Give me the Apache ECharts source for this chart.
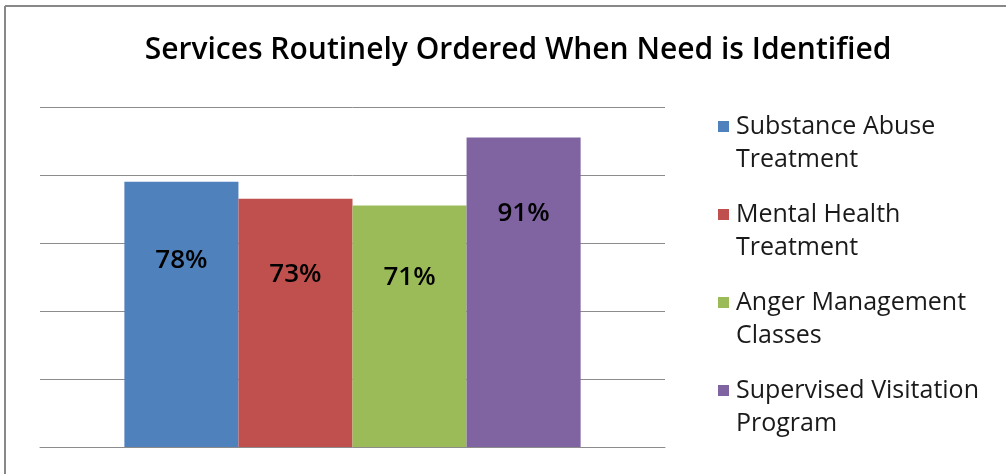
<!DOCTYPE html>
<html><head><meta charset="utf-8">
<script src="https://cdn.jsdelivr.net/npm/echarts@6/dist/echarts.min.js"></script>
<style>html,body{margin:0;padding:0;background:#fff}#c{width:1006px;height:474px}</style>
</head><body><div id="c"></div>
<script>
var titleText = 'Services Routinely Ordered When Need is Identified';
var categories = [''];
var seriesNames = ['Substance Abuse Treatment','Mental Health Treatment','Anger Management Classes','Supervised Visitation Program'];
var seriesValues = [78, 73, 71, 91];
var colors = ['#4f81bd','#c0504d','#9bbb59','#8064a2'];
var labelDistances = [66, 63, 59, 63];
var yTicks = [0, 20, 40, 60, 80, 100];

var chart = echarts.init(document.getElementById('c'), null, {renderer:'canvas'});
var series = seriesNames.map(function(n,i){
  return {
    name: n, type: 'bar', data: [seriesValues[i]],
    barGap: '0%', barCategoryGap: '27%',
    itemStyle: {color: colors[i]},
    label: {show: true, position: 'insideTop', distance: labelDistances[i],
      formatter: '{c}%', color: '#000', fontFamily: 'Open Sans', fontWeight: 600, fontSize: 26}
  };
});
chart.setOption({
  animation: false,
  color: colors,
  title: {text: titleText, left: 513, textAlign: 'center', top: 30,
    textStyle: {fontFamily: 'Open Sans', fontWeight: 600, fontSize: 30, color: '#000'}},
  grid: {left: 40, right: 341, top: 107, bottom: 27},
  legend: {orient: 'vertical', left: 713, top: 105, itemWidth: 11, itemHeight: 44, itemGap: 22,
    icon: 'path://M0,0L1,0L1,1L0,1Z M0,4L1,4',
    formatter: function(name){ var k = name.lastIndexOf(' '); return name.slice(0,k) + '\n' + name.slice(k+1); },
    textStyle: {fontFamily: 'Open Sans', fontSize: 25, lineHeight: 33, color: '#1a1a1a', padding: [0,0,0,2]}},
  xAxis: {type: 'category', data: categories, axisTick: {show: false}, axisLabel: {show: false},
    axisLine: {lineStyle: {color: '#8c8c8c', width: 1}}},
  yAxis: {type: 'value', min: yTicks[0], max: yTicks[yTicks.length-1], interval: yTicks[1]-yTicks[0],
    axisLabel: {show: false}, axisLine: {show: false}, axisTick: {show: false},
    splitLine: {lineStyle: {color: '#8c8c8c', width: 1}}},
  graphic: [
    {type: 'line', shape: {x1: 5, y1: 6, x2: 1006, y2: 6}, style: {stroke: '#888', lineWidth: 2}},
    {type: 'line', shape: {x1: 5, y1: 6, x2: 5, y2: 474}, style: {stroke: '#888', lineWidth: 2}}
  ],
  series: series
});
</script></body></html>
